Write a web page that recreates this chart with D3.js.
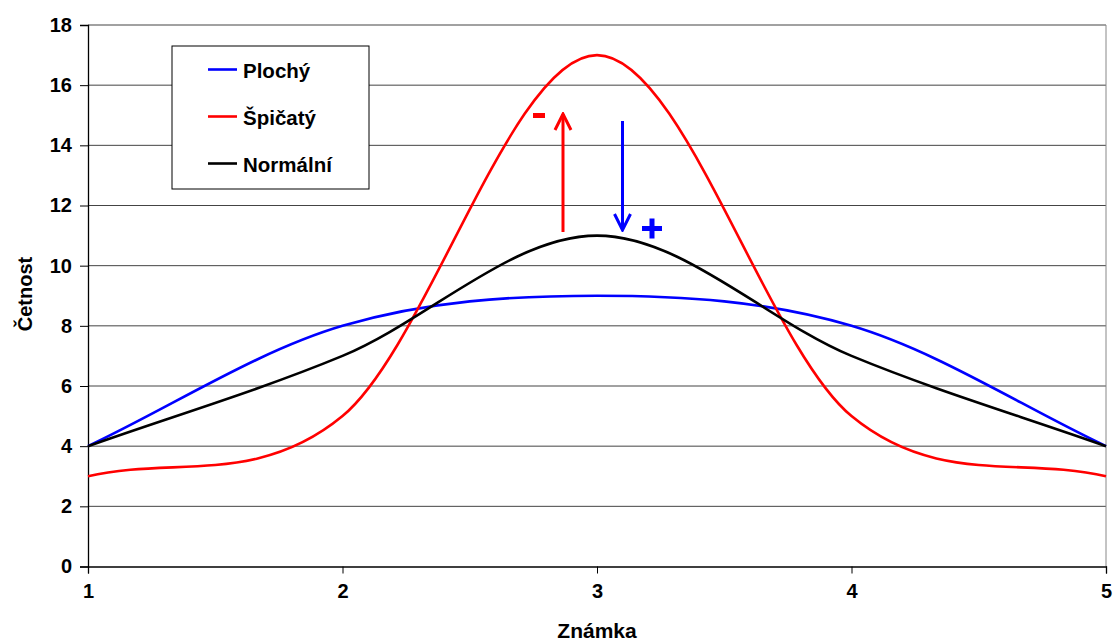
<!DOCTYPE html>
<html><head><meta charset="utf-8">
<script src="https://cdn.jsdelivr.net/npm/d3@7"></script>
<style>body{margin:0;background:#fff}svg{display:block;font-family:"Liberation Sans",Arial,sans-serif;font-weight:bold}</style>
</head><body><svg id="c" width="1113" height="641"></svg>
<script>
const categories = [1, 2, 3, 4, 5];
const plochy = [4, 8, 9, 8, 4];
const spicaty = [3, 5, 17, 5, 3];
const normalni = [4, 7, 11, 7, 4];
const yTicks = [0, 2, 4, 6, 8, 10, 12, 14, 16, 18];
const seriesNames = ["Plochý", "Špičatý", "Normální"];
const seriesColors = ["#0000ff", "#ff0000", "#000000"];
const seriesData = [plochy, spicaty, normalni];

const svg = d3.select("#c");
const L = 88, R = 1106, T = 25, B = 566.5;
const x = d3.scaleLinear().domain([1, 5]).range([L, R]);
const y = d3.scaleLinear().domain([0, 18]).range([B, T]);

// grid
svg.append("g").selectAll("line").data(yTicks.filter(d => d > 0)).join("line")
  .attr("x1", L).attr("x2", R).attr("y1", d => y(d)).attr("y2", d => y(d))
  .attr("stroke", "#444").attr("stroke-width", 1);
svg.append("line").attr("x1", R).attr("x2", R).attr("y1", T).attr("y2", B)
  .attr("stroke", "#888").attr("stroke-width", 1);

// axes
const yAxis = svg.append("g").attr("transform", `translate(${L},0)`)
  .call(d3.axisLeft(y).tickValues(yTicks).tickSize(8).tickPadding(8).tickFormat(d3.format("d")));
const xAxis = svg.append("g").attr("transform", `translate(0,${B})`)
  .call(d3.axisBottom(x).tickValues(categories).tickSize(7).tickPadding(10).tickFormat(d3.format("d")));
[yAxis, xAxis].forEach(a => {
  a.select(".domain").attr("stroke", "#000").attr("stroke-width", 1.3);
  a.selectAll(".tick line").attr("stroke", "#000");
  a.selectAll("text").attr("font-size", 20).attr("font-weight", "bold")
    .attr("font-family", "Liberation Sans, Arial, sans-serif").attr("fill", "#000");
});

// titles
svg.append("text").attr("x", x(3)).attr("y", 638).attr("text-anchor", "middle")
  .attr("font-size", 21).text("Známka");
svg.append("text").attr("transform", `translate(32,294) rotate(-90)`)
  .attr("text-anchor", "middle").attr("font-size", 20).text("Četnost");

// smoothed line (Catmull-Rom with linear-extrapolated end points, like spreadsheet smoothing)
function smoothPath(vals) {
  const pts = vals.map((v, i) => [x(categories[i]), y(v)]);
  const n = pts.length;
  const ext = [[2 * pts[0][0] - pts[1][0], 2 * pts[0][1] - pts[1][1]], ...pts,
               [2 * pts[n - 1][0] - pts[n - 2][0], 2 * pts[n - 1][1] - pts[n - 2][1]]];
  const p = d3.path();
  p.moveTo(pts[0][0], pts[0][1]);
  for (let i = 1; i < ext.length - 2; i++) {
    const p0 = ext[i - 1], p1 = ext[i], p2 = ext[i + 1], p3 = ext[i + 2];
    p.bezierCurveTo(p1[0] + (p2[0] - p0[0]) / 6, p1[1] + (p2[1] - p0[1]) / 6,
                    p2[0] - (p3[0] - p1[0]) / 6, p2[1] - (p3[1] - p1[1]) / 6,
                    p2[0], p2[1]);
  }
  return p.toString();
}
svg.append("g").selectAll("path").data(seriesData).join("path")
  .attr("d", d => smoothPath(d)).attr("fill", "none")
  .attr("stroke", (d, i) => seriesColors[i]).attr("stroke-width", 2.6);

// arrows
svg.append("defs").html(`
<marker id="ar" viewBox="0 0 20 20" refX="18" refY="10" markerWidth="20" markerHeight="20" markerUnits="userSpaceOnUse" orient="auto">
<path d="M2,2 L18,10 L2,18" fill="none" stroke="red" stroke-width="3"/></marker>
<marker id="ab" viewBox="0 0 20 20" refX="18" refY="10" markerWidth="20" markerHeight="20" markerUnits="userSpaceOnUse" orient="auto">
<path d="M2,2 L18,10 L2,18" fill="none" stroke="blue" stroke-width="3"/></marker>`);
svg.append("line").attr("x1", 563).attr("x2", 563).attr("y1", 232).attr("y2", 114)
  .attr("stroke", "red").attr("stroke-width", 3).attr("marker-end", "url(#ar)");
svg.append("line").attr("x1", 622.5).attr("x2", 622.5).attr("y1", 121).attr("y2", 230)
  .attr("stroke", "blue").attr("stroke-width", 3).attr("marker-end", "url(#ab)");
svg.append("rect").attr("x", 533).attr("y", 113).attr("width", 12).attr("height", 5).attr("fill", "red");
svg.append("rect").attr("x", 642).attr("y", 226).attr("width", 20).attr("height", 5).attr("fill", "blue");
svg.append("rect").attr("x", 649.5).attr("y", 218.5).attr("width", 5).attr("height", 20).attr("fill", "blue");

// legend
const lg = svg.append("g");
lg.append("rect").attr("x", 172).attr("y", 46).attr("width", 197).attr("height", 143)
  .attr("fill", "#fff").attr("stroke", "#000").attr("stroke-width", 1);
seriesNames.forEach((n, i) => {
  const base = 78 + i * 47;
  lg.append("line").attr("x1", 208).attr("x2", 237).attr("y1", base - 8.5).attr("y2", base - 8.5)
    .attr("stroke", seriesColors[i]).attr("stroke-width", 2.6);
  lg.append("text").attr("x", 243).attr("y", base).attr("font-size", 20.5).text(n);
});
</script></body></html>
